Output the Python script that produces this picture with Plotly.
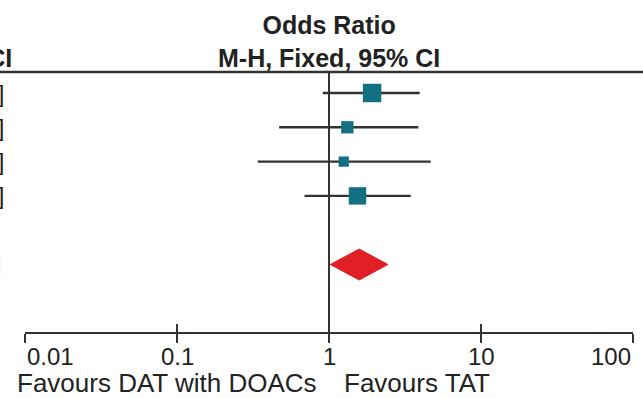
import numpy as np
import plotly.graph_objects as go

# ---------------- data ----------------
studies = ["Study 1", "Study 2", "Study 3", "Study 4"]
odds_ratio = [1.92, 1.32, 1.25, 1.54]
ci_low = [0.91, 0.47, 0.34, 0.69]
ci_high = [3.95, 3.87, 4.67, 3.45]
weights = [37.8, 16.8, 11.7, 33.7]
total_or = 1.58
total_low = 1.02
total_high = 2.44
tick_vals = [0.01, 0.1, 1, 10, 100]
tick_text = ["0.01", "0.1", "1", "10", "100"]
header_text = "Odds Ratio<br>M-H, Fixed, 95% CI"
favours_left = "Favours DAT with DOACs"
favours_right = "Favours TAT"

# ---------------- layout constants ----------------
W, H = 643, 398
ROW0, STEP = 93.0, 34.3
AXIS_PIX = 333.0
TOP_LINE_PIX = 72.0
FONT = "Liberation Sans, Arial, Helvetica, sans-serif"
TXT = "#222222"
LINE = "#333333"
TEAL = "#127083"
RED = "#E11F26"


def rowpix(p):
    return (p - ROW0) / STEP


def ypaper(p):
    return 1 - p / H


rows = list(range(len(studies)))
total_row = len(studies) + 1

fig = go.Figure()

# vertical line of no effect
fig.add_trace(go.Scatter(x=[1, 1], y=[rowpix(73), rowpix(AXIS_PIX)], mode="lines",
                         line=dict(color=LINE, width=2), hoverinfo="skip", showlegend=False))

# CI lines
cx, cy = [], []
for r, lo, hi in zip(rows, ci_low, ci_high):
    cx += [lo, hi, None]
    cy += [r, r, None]
fig.add_trace(go.Scatter(x=cx, y=cy, mode="lines", line=dict(color=LINE, width=2.4),
                         hoverinfo="skip", showlegend=False))

# squares
sizes = [3.0 * np.sqrt(w) for w in weights]
fig.add_trace(go.Scatter(x=odds_ratio, y=rows, mode="markers",
                         marker=dict(symbol="square", size=sizes, color=TEAL, opacity=1,
                                     line=dict(width=0)),
                         opacity=1, text=studies, showlegend=False))

# diamond
hh = 15.5 / STEP
fig.add_trace(go.Scatter(x=[total_low, total_or, total_high, total_or, total_low],
                         y=[total_row, total_row - hh, total_row, total_row + hh, total_row],
                         mode="lines", fill="toself", fillcolor=RED,
                         line=dict(color=RED, width=1), hoverinfo="skip", showlegend=False))

# dummy trace for overlay axis
fig.add_trace(go.Scatter(x=[1], y=[0], xaxis="x2", mode="markers",
                         marker=dict(opacity=0), hoverinfo="skip", showlegend=False))

dom = [25 / W, 633 / W]
axis_pos = ypaper(AXIS_PIX)
common = dict(type="log", range=[-2, 2], domain=dom, anchor="free", position=axis_pos,
              tickvals=tick_vals, showticklabels=False, showgrid=False, zeroline=False,
              ticklen=9, tickwidth=2, tickcolor=LINE, fixedrange=True)

fig.update_layout(
    width=W, height=H, margin=dict(l=0, r=0, t=0, b=0),
    paper_bgcolor="white", plot_bgcolor="rgba(0,0,0,0)",
    xaxis=dict(**common, ticks="outside", showline=True, linecolor=LINE, linewidth=2.4),
    xaxis2=dict(**common, ticks="inside", showline=False, overlaying="x"),
    yaxis=dict(range=[rowpix(H), rowpix(0)], domain=[0, 1], visible=False, fixedrange=True),
    font=dict(family=FONT, color=TXT),
)

# top rule
fig.add_shape(type="line", xref="paper", yref="paper", x0=0, x1=1,
              y0=ypaper(TOP_LINE_PIX), y1=ypaper(TOP_LINE_PIX), line=dict(color=LINE, width=2.4))

bold_header = "<b>" + header_text.replace("<br>", "</b><br><b>") + "</b>"
ann = []
# header over plot
ann.append(dict(text=bold_header, xref="x domain", x=0.5,
                yref="paper", y=ypaper(TOP_LINE_PIX + 2), xanchor="center", yanchor="bottom",
                showarrow=False, font=dict(size=25, family=FONT, color=TXT), align="center"))
# clipped header of left column
ann.append(dict(text=bold_header, xref="paper", x=14 / W,
                yref="paper", y=ypaper(TOP_LINE_PIX + 2), xanchor="right", yanchor="bottom",
                showarrow=False, font=dict(size=25, family=FONT, color=TXT), align="center"))
# clipped CI text of left column
for r, o, lo, hi in zip(rows, odds_ratio, ci_low, ci_high):
    ann.append(dict(text=f"{o:.2f} [{lo:.2f}, {hi:.2f}]", xref="paper", x=6 / W, yref="y", y=r,
                    xanchor="right", yanchor="middle", showarrow=False,
                    font=dict(size=24, family=FONT, color=TXT)))
ann.append(dict(text=f"{total_or:.2f} [{total_low:.2f}, {total_high:.2f}]", xref="paper", x=3 / W,
                yref="y", y=total_row, xanchor="right", yanchor="middle", showarrow=False,
                font=dict(size=24, family=FONT, color="#888888")))
# tick labels
for i, (v, t) in enumerate(zip(tick_vals, tick_text)):
    xa = "left" if i == 0 else ("right" if i == len(tick_vals) - 1 else "center")
    ann.append(dict(text=t, xref="x", x=np.log10(v), yref="paper", y=ypaper(356),
                    xanchor=xa, yanchor="middle", showarrow=False,
                    font=dict(size=24, family=FONT, color=TXT)))
# favours labels
ann.append(dict(text=favours_left, xref="x", x=0, xshift=-10, yref="paper", y=ypaper(383),
                xanchor="right", yanchor="middle", showarrow=False,
                font=dict(size=26, family=FONT, color=TXT)))
ann.append(dict(text=favours_right, xref="x", x=0, xshift=13, yref="paper", y=ypaper(383),
                xanchor="left", yanchor="middle", showarrow=False,
                font=dict(size=26, family=FONT, color=TXT)))
fig.update_layout(annotations=ann)

fig.write_html("out.html")
